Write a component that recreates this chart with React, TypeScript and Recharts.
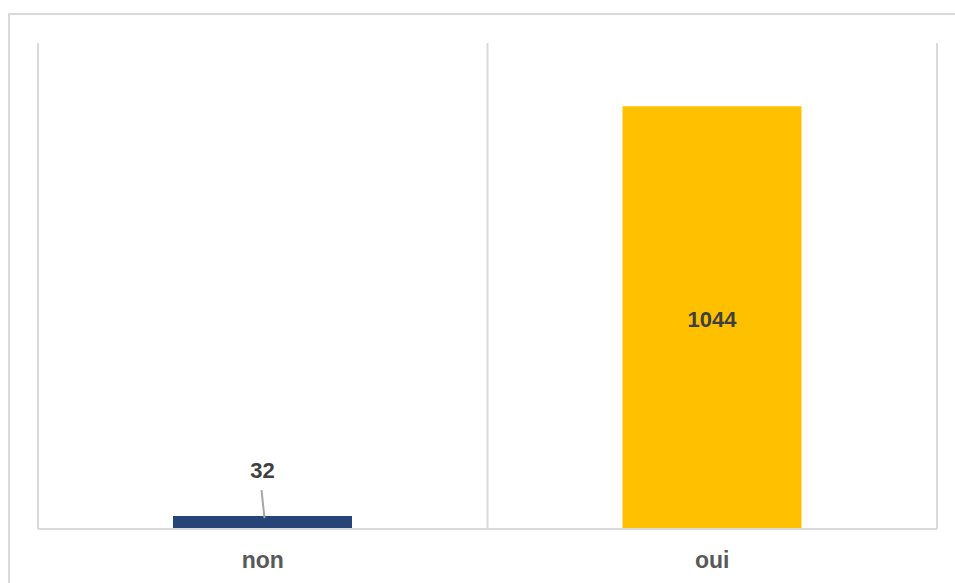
import React from "react";
import { BarChart, Bar, XAxis, YAxis, CartesianGrid, LabelList, Cell } from "recharts";

const categories = ["non", "oui"];
const counts = [32, 1044];
const barColors = ["#264478", "#FFC000"];
const yDomainMax = 1200;

const data = categories.map((c, i) => ({ name: c, value: counts[i] }));

const FONT = "'Liberation Sans', Arial, sans-serif";

const BarLabel = (props: any) => {
  const { x, y, width, height, value } = props;
  const cx = x + width / 2;
  if (height < 40) {
    return (
      <g>
        <line x1={cx - 1} y1={y - 26} x2={cx + 2} y2={y + 2} stroke="#a6a6a6" strokeWidth={2} />
        <text
          x={cx}
          y={y - 46}
          textAnchor="middle"
          dominantBaseline="central"
          fontFamily={FONT}
          fontWeight="bold"
          fontSize={22}
          fill="#404040"
        >
          {value}
        </text>
      </g>
    );
  }
  return (
    <text
      x={cx}
      y={y + height / 2 + 2}
      textAnchor="middle"
      dominantBaseline="central"
      fontFamily={FONT}
      fontWeight="bold"
      fontSize={22}
      fill="#404040"
    >
      {value}
    </text>
  );
};

export default function App() {
  return (
    <div style={{ position: "relative", width: 939, height: 567 }}>
      <div
        style={{
          position: "fixed",
          left: 8,
          top: 13,
          width: 1000,
          height: 1000,
          border: "2px solid #d9d9d9",
          boxSizing: "border-box",
          background: "#fff",
        }}
      >
        <BarChart
          width={940}
          height={565}
          data={data}
          margin={{ top: 28, right: 13, left: 28, bottom: 11 }}
        >
          <CartesianGrid
            horizontal={false}
            stroke="#d9d9d9"
            strokeWidth={2}
            verticalCoordinatesGenerator={({ offset }: any) => [
              offset.left,
              offset.left + offset.width / 2,
              offset.left + offset.width,
            ]}
          />
          <XAxis
            dataKey="name"
            height={40}
            axisLine={{ stroke: "#d9d9d9", strokeWidth: 2 }}
            tickLine={false}
            tickSize={0}
            tickMargin={23}
            tick={{ fontFamily: FONT, fontWeight: "bold", fontSize: 23, fill: "#595959" }}
          />
          <YAxis hide domain={[0, yDomainMax]} />
          <Bar dataKey="value" barSize={179} isAnimationActive={false}>
            {data.map((d, i) => (
              <Cell key={d.name} fill={barColors[i]} />
            ))}
            <LabelList dataKey="value" content={BarLabel} />
          </Bar>
        </BarChart>
      </div>
    </div>
  );
}
